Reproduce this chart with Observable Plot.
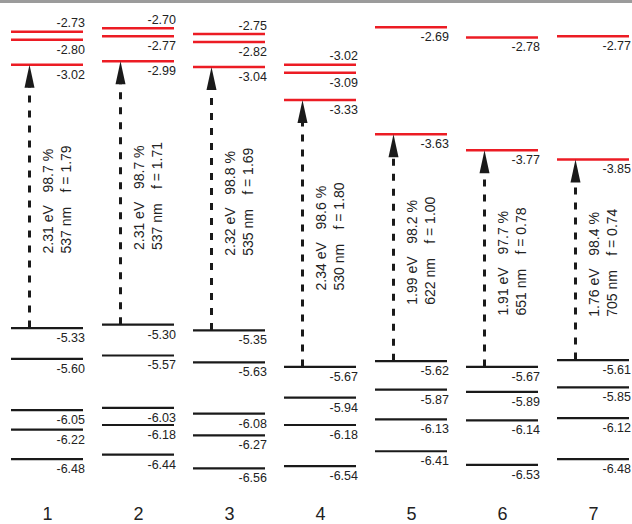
<!DOCTYPE html>
<html><head><meta charset="utf-8">
<script src="https://cdn.jsdelivr.net/npm/d3@7"></script>
<script src="https://cdn.jsdelivr.net/npm/@observablehq/plot@0.6"></script>
<style>
html,body{margin:0;padding:0;background:#fff;overflow:hidden;}
#wrap{position:relative;width:632px;height:524px;}
#topbar{position:absolute;left:0;top:0;width:632px;height:3px;background:#9b9b9b;}
</style></head><body><div id="wrap"><div id="topbar"></div></div>
<script>
// Data
const compounds = [1, 2, 3, 4, 5, 6, 7];
const lumo = [
  [-2.73, -2.80, -3.02],
  [-2.70, -2.77, -2.99],
  [-2.75, -2.82, -3.04],
  [-3.02, -3.09, -3.33],
  [-2.69, -3.63],
  [-2.78, -3.77],
  [-2.77, -3.85]
];
const homo = [
  [-5.33, -5.60, -6.05, -6.22, -6.48],
  [-5.30, -5.57, -6.03, -6.18, -6.44],
  [-5.35, -5.63, -6.08, -6.27, -6.56],
  [-5.67, -5.94, -6.18, -6.54],
  [-5.62, -5.87, -6.13, -6.41],
  [-5.67, -5.89, -6.14, -6.53],
  [-5.61, -5.85, -6.12, -6.48]
];
const excEnergy = [2.31, 2.31, 2.32, 2.34, 1.99, 1.91, 1.76];
const wavelength = [537, 537, 535, 530, 622, 651, 705];
const contribution = [98.7, 98.7, 98.8, 98.6, 98.2, 97.7, 98.4];
const oscStrength = [1.79, 1.71, 1.69, 1.80, 1.00, 0.78, 0.74];

const RED = "#ec1c24", BLACK = "#1a1a1a", TXT = "#222";

const levels = [];
compounds.forEach((c, i) => {
  lumo[i].forEach((e, j) => levels.push({col: c, E: e, kind: "LUMO", above: lumo[i].length === 3 && j === 0}));
  homo[i].forEach(e => levels.push({col: c, E: e, kind: "HOMO", above: false}));
});
const trans = compounds.map((c, i) => ({
  col: c, homo: d3.max(homo[i]), lumo: d3.min(lumo[i]),
  ev: excEnergy[i], nm: wavelength[i], pct: contribution[i], f: oscStrength[i]
}));
const mid = d => (d.homo + d.lumo) / 2;

const arrowHead = {
  draw(ctx) { ctx.moveTo(0, 0); ctx.lineTo(5, 23); ctx.lineTo(-5, 23); ctx.closePath(); }
};

const chart = Plot.plot({
  width: 632, height: 524,
  marginTop: 0, marginBottom: 24, marginLeft: 0, marginRight: 0,
  style: {fontFamily: "'Liberation Sans', Arial, sans-serif", color: TXT, background: "transparent", overflow: "visible"},
  x: {type: "band", domain: compounds, range: [-1.5, 642.5], paddingInner: 0.2065, paddingOuter: 0.1033, axis: null},
  y: {domain: [0, -7], range: [-280, 518], axis: null},
  marks: [
    Plot.tickY(levels.filter(d => d.kind === "LUMO"), {x: "col", y: "E", stroke: RED, strokeWidth: 2.5}),
    Plot.tickY(levels.filter(d => d.kind === "HOMO"), {x: "col", y: "E", stroke: BLACK, strokeWidth: 2.2}),
    Plot.ruleX(trans, {x: "col", y1: "homo", y2: d => d.lumo - 0.1, dx: -18, stroke: BLACK, strokeWidth: 3, strokeDasharray: "7,8"}),
    Plot.dot(trans, {x: "col", y: "lumo", dx: -18, symbol: arrowHead, fill: BLACK, stroke: "none"}),
    Plot.text(levels.filter(d => !d.above), {x: "col", y: "E", text: d => d.E.toFixed(2), textAnchor: "end", dx: 37.5, dy: 10, fontSize: 12.5, fill: TXT}),
    Plot.text(levels.filter(d => d.above), {x: "col", y: "E", text: d => d.E.toFixed(2), textAnchor: "end", dx: 37.5, dy: -8.5, fontSize: 12.5, fill: TXT}),
    Plot.text(trans, {x: "col", y: mid, text: d => `${d.ev.toFixed(2)} eV\n${d.nm} nm`, rotate: -90, textAnchor: "start", lineHeight: 1.3, fontSize: 14, dx: 9, dy: 57, fill: TXT}),
    Plot.text(trans, {x: "col", y: mid, text: d => `${d.pct.toFixed(1)} %\nf = ${d.f.toFixed(2)}`, rotate: -90, textAnchor: "start", lineHeight: 1.3, fontSize: 14, dx: 9, dy: -4, fill: TXT}),
    Plot.text(compounds, {x: d => d, frameAnchor: "bottom", text: d => String(d), lineAnchor: "top", dy: 6.5, fontSize: 18, fill: TXT})
  ]
});
document.getElementById("wrap").prepend(chart);
</script></body></html>
